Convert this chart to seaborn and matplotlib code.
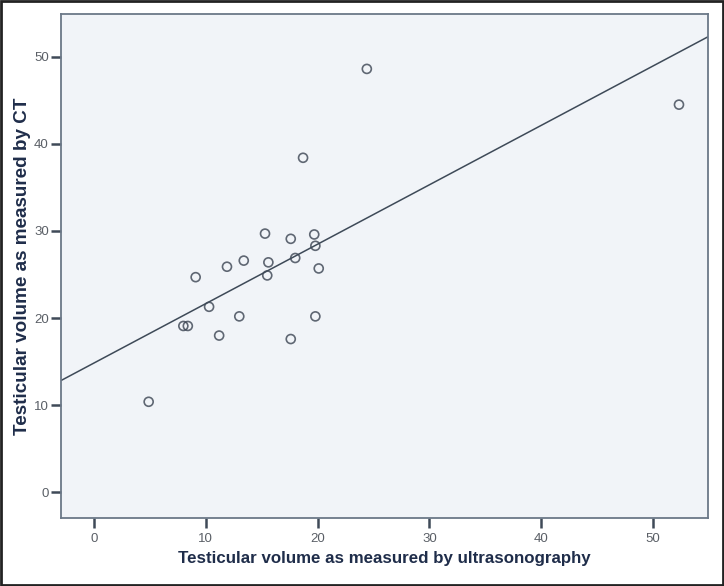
import numpy as np
import pandas as pd
import matplotlib.pyplot as plt
import seaborn as sns

# testicular volume: ultrasonography (x) vs CT (y)
us_volume = [4.9, 8.0, 8.4, 9.1, 10.3, 11.2, 11.9, 13.0, 13.4, 15.3, 15.5, 15.6,
             17.6, 17.6, 18.0, 18.7, 19.7, 19.8, 19.8, 20.1, 24.4, 52.3]
ct_volume = [10.4, 19.1, 19.1, 24.7, 21.3, 18.0, 25.9, 20.2, 26.6, 29.7, 24.9, 26.4,
             29.1, 17.6, 26.9, 38.4, 29.6, 28.3, 20.2, 25.7, 48.6, 44.5]
ticks = [0, 10, 20, 30, 40, 50]

df = pd.DataFrame({'us': us_volume, 'ct': ct_volume})

sns.set_style('white')
plt.rcParams['font.family'] = ['Liberation Sans Narrow', 'Liberation Sans', 'DejaVu Sans']

fig = plt.figure(figsize=(7.24, 5.86), dpi=100)
fig.patch.set_facecolor('white')
ax = fig.add_axes([0.0848, 0.1166, 0.8932, 0.8595])
ax.set_facecolor('#f1f4f8')
# limits first so the fit line spans the full axis (truncate=False)
ax.set_xlim(-2.9, 54.9)
ax.set_ylim(-2.9, 54.9)

ax = sns.regplot(ax=ax, data=df, x='us', y='ct', ci=None, truncate=False,
                 scatter_kws=dict(s=42, facecolors='none', edgecolors='#3b4452', linewidths=1.2),
                 line_kws=dict(color='#3e4a58', lw=1.1))

ax.set_xlim(-2.9, 54.9)
ax.set_ylim(-2.9, 54.9)
ax.set_xticks(ticks)
ax.set_yticks(ticks)
ax.tick_params(axis='both', which='major', bottom=True, left=True, direction='out',
               length=7, width=1.8, color='#3f4a58', labelsize=9.5,
               labelcolor='#5a5f66', pad=2)
ax.tick_params(axis='x', pad=4)

for side in ['left', 'right', 'top', 'bottom']:
    ax.spines[side].set_color('#6b7888')
    ax.spines[side].set_linewidth(1.3)

ax.set_xlabel('Testicular volume as measured by ultrasonography', fontsize=12.2,
              fontweight='bold', color='#1f2d4a', labelpad=4)
ax.set_ylabel('Testicular volume as measured by CT', fontsize=13.6,
              fontweight='bold', color='#1f2d4a', labelpad=2)

# outer frame of the picture
fig.add_artist(plt.Rectangle((0.001, 0.001), 0.997, 0.997, transform=fig.transFigure,
                             fill=False, edgecolor='#222222', lw=2))

plt.savefig('out.png', dpi=100, facecolor=fig.get_facecolor())
